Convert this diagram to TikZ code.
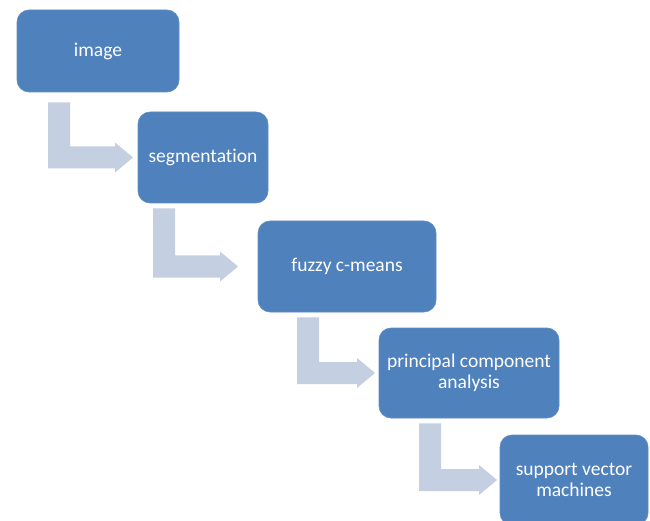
\documentclass[tikz,border=0pt]{standalone}
\usepackage{fontspec}
\setmainfont[Ligatures=NoCommon]{Carlito}
\usetikzlibrary{calc}
\definecolor{boxblue}{RGB}{79,129,189}
\definecolor{arrowfill}{RGB}{197,207,226}
\tikzset{
  stage/.style={rounded corners=12pt, fill=boxblue, draw=boxblue!90!white, line width=0.6pt,
    text=white, font=\fontsize{19.5}{20.5}\selectfont, align=center, inner sep=0pt},
  bent/.style={fill=arrowfill}
}
\newcommand\bendarrow[5]{%
  \fill[bent] let \p1=(#1.south), \p2=(#2.west) in
   (#3pt,\y1-#5pt) -- (#3pt+22pt,\y1-#5pt) -- (#3pt+22pt,\y2+11pt) -- (#4pt-18pt,\y2+11pt)
   -- (#4pt-18pt,\y2+15pt) -- (#4pt,\y2) -- (#4pt-18pt,\y2-15pt) -- (#4pt-18pt,\y2-11pt)
   -- (#3pt,\y2-11pt) -- cycle;}
\begin{document}
\begin{tikzpicture}[x=1pt,y=-1pt]
\useasboundingbox (0,0) rectangle (650,521);
\clip (0,0) rectangle (650,521);
\fill[white] (0,0) rectangle (650,521);
\node[stage, minimum width=162pt, minimum height=82pt] (img) at (98,51) {image};
\node[stage, minimum width=130pt, minimum height=91pt] (seg) at (203,157.5) {segmentation};
\node[stage, minimum width=178pt, minimum height=91pt] (fcm) at (347,266.5) {fuzzy c-means};
\node[stage, minimum width=180pt, minimum height=90pt] (pca) at (469,373) {principal component\\analysis};
\node[stage, minimum width=148pt, minimum height=90pt] (svm) at (574,480) {support vector\\machines};
\bendarrow{img}{seg}{48}{133}{10}
\bendarrow{seg}{fcm}{153}{238}{5}
\bendarrow{fcm}{pca}{297}{375}{5}
\bendarrow{pca}{svm}{419}{497}{5}
\end{tikzpicture}
\end{document}
